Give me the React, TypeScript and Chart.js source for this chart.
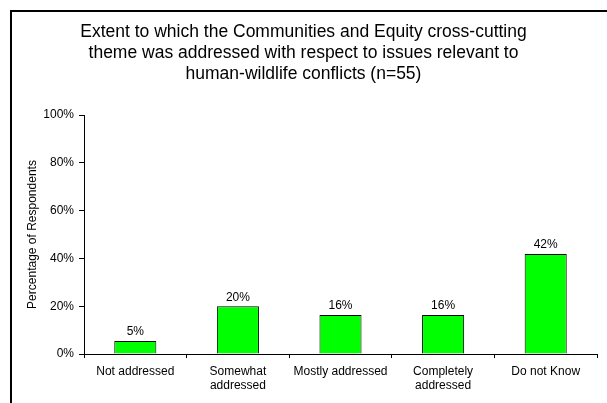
import React, { useEffect, useRef } from "react";
import { Chart, registerables } from "chart.js";

Chart.register(...registerables);

const titleLines = [
  "Extent to which the Communities and Equity cross-cutting",
  "theme was addressed with respect to issues relevant to",
  "human-wildlife conflicts (n=55)",
];
const categories: string[][] = [
  ["Not addressed"],
  ["Somewhat", "addressed"],
  ["Mostly addressed"],
  ["Completely", "addressed"],
  ["Do not Know"],
];
const percentValues = [5.45, 20.0, 16.36, 16.36, 41.82];
const barLabels = ["5%", "20%", "16%", "16%", "42%"];
const yAxisTitle = "Percentage of Respondents";
const yMin = 0;
const yMax = 100;
const yStep = 20;

const FONT = "'Liberation Sans', Arial, Helvetica, sans-serif";

const valueLabelPlugin = {
  id: "valueLabels",
  afterDatasetsDraw(chart: any) {
    const ctx = chart.ctx;
    const meta = chart.getDatasetMeta(0);
    ctx.save();
    ctx.font = `12px ${FONT}`;
    ctx.fillStyle = "#000";
    ctx.textAlign = "center";
    ctx.textBaseline = "bottom";
    meta.data.forEach((bar: any, i: number) => {
      ctx.fillText(barLabels[i], bar.x, bar.y - 3);
    });
    ctx.restore();
  },
};

export default function App() {
  const canvasRef = useRef<HTMLCanvasElement | null>(null);

  useEffect(() => {
    if (!canvasRef.current) return;
    Chart.defaults.font.family = FONT;
    Chart.defaults.color = "#000";
    const chart = new Chart(canvasRef.current, {
      type: "bar",
      data: {
        labels: categories,
        datasets: [
          {
            data: percentValues,
            backgroundColor: "#00FF00",
            borderColor: "#000",
            borderWidth: 1,
            barPercentage: 0.41,
            categoryPercentage: 1,
          },
        ],
      },
      options: {
        animation: false,
        responsive: false,
        devicePixelRatio: 1,
        layout: { padding: { left: 10, right: 10, top: 10, bottom: 0 } },
        plugins: {
          legend: { display: false },
          tooltip: { enabled: false },
          title: {
            display: true,
            text: titleLines,
            color: "#000",
            font: { size: 17.5, weight: "normal", family: FONT, lineHeight: 1.2 },
            padding: { top: 11.5, bottom: 30.5 },
          },
        },
        scales: {
          x: {
            afterFit: (scale: any) => {
              scale.height = 49;
            },
            grid: {
              display: true,
              drawOnChartArea: false,
              drawTicks: true,
              tickLength: 4,
              color: "#000",
              offset: true,
            },
            border: { display: true, color: "#000", width: 1 },
            ticks: {
              color: "#000",
              font: { size: 12, family: FONT, lineHeight: 1.2 },
              padding: 6,
              maxRotation: 0,
              autoSkip: false,
            },
          },
          y: {
            min: yMin,
            max: yMax,
            afterFit: (scale: any) => {
              scale.width = 74;
            },
            grid: {
              display: true,
              drawOnChartArea: false,
              drawTicks: true,
              tickLength: 5,
              color: "#000",
            },
            border: { display: true, color: "#000", width: 1 },
            ticks: {
              stepSize: yStep,
              color: "#000",
              padding: 5,
              font: { size: 12, family: FONT },
              callback: (v: any) => `${v}%`,
            },
            title: {
              display: true,
              text: yAxisTitle,
              color: "#000",
              font: { size: 12, family: FONT, lineHeight: 1.2 },
              padding: { top: 15, bottom: 0 },
            },
          },
        },
      },
      plugins: [valueLabelPlugin],
    });
    return () => chart.destroy();
  }, []);

  return (
    <div
      style={{
        position: "absolute",
        left: 0,
        top: 0,
        width: 607,
        height: 403,
        overflow: "hidden",
        background: "#fff",
      }}
    >
      <canvas
        ref={canvasRef}
        width={607}
        height={403}
        style={{ position: "absolute", left: 0, top: 0, width: 607, height: 403 }}
      />
      <div
        style={{
          position: "absolute",
          left: 10,
          top: 10,
          width: 700,
          height: 500,
          border: "2px solid #000",
          pointerEvents: "none",
        }}
      />
    </div>
  );
}
